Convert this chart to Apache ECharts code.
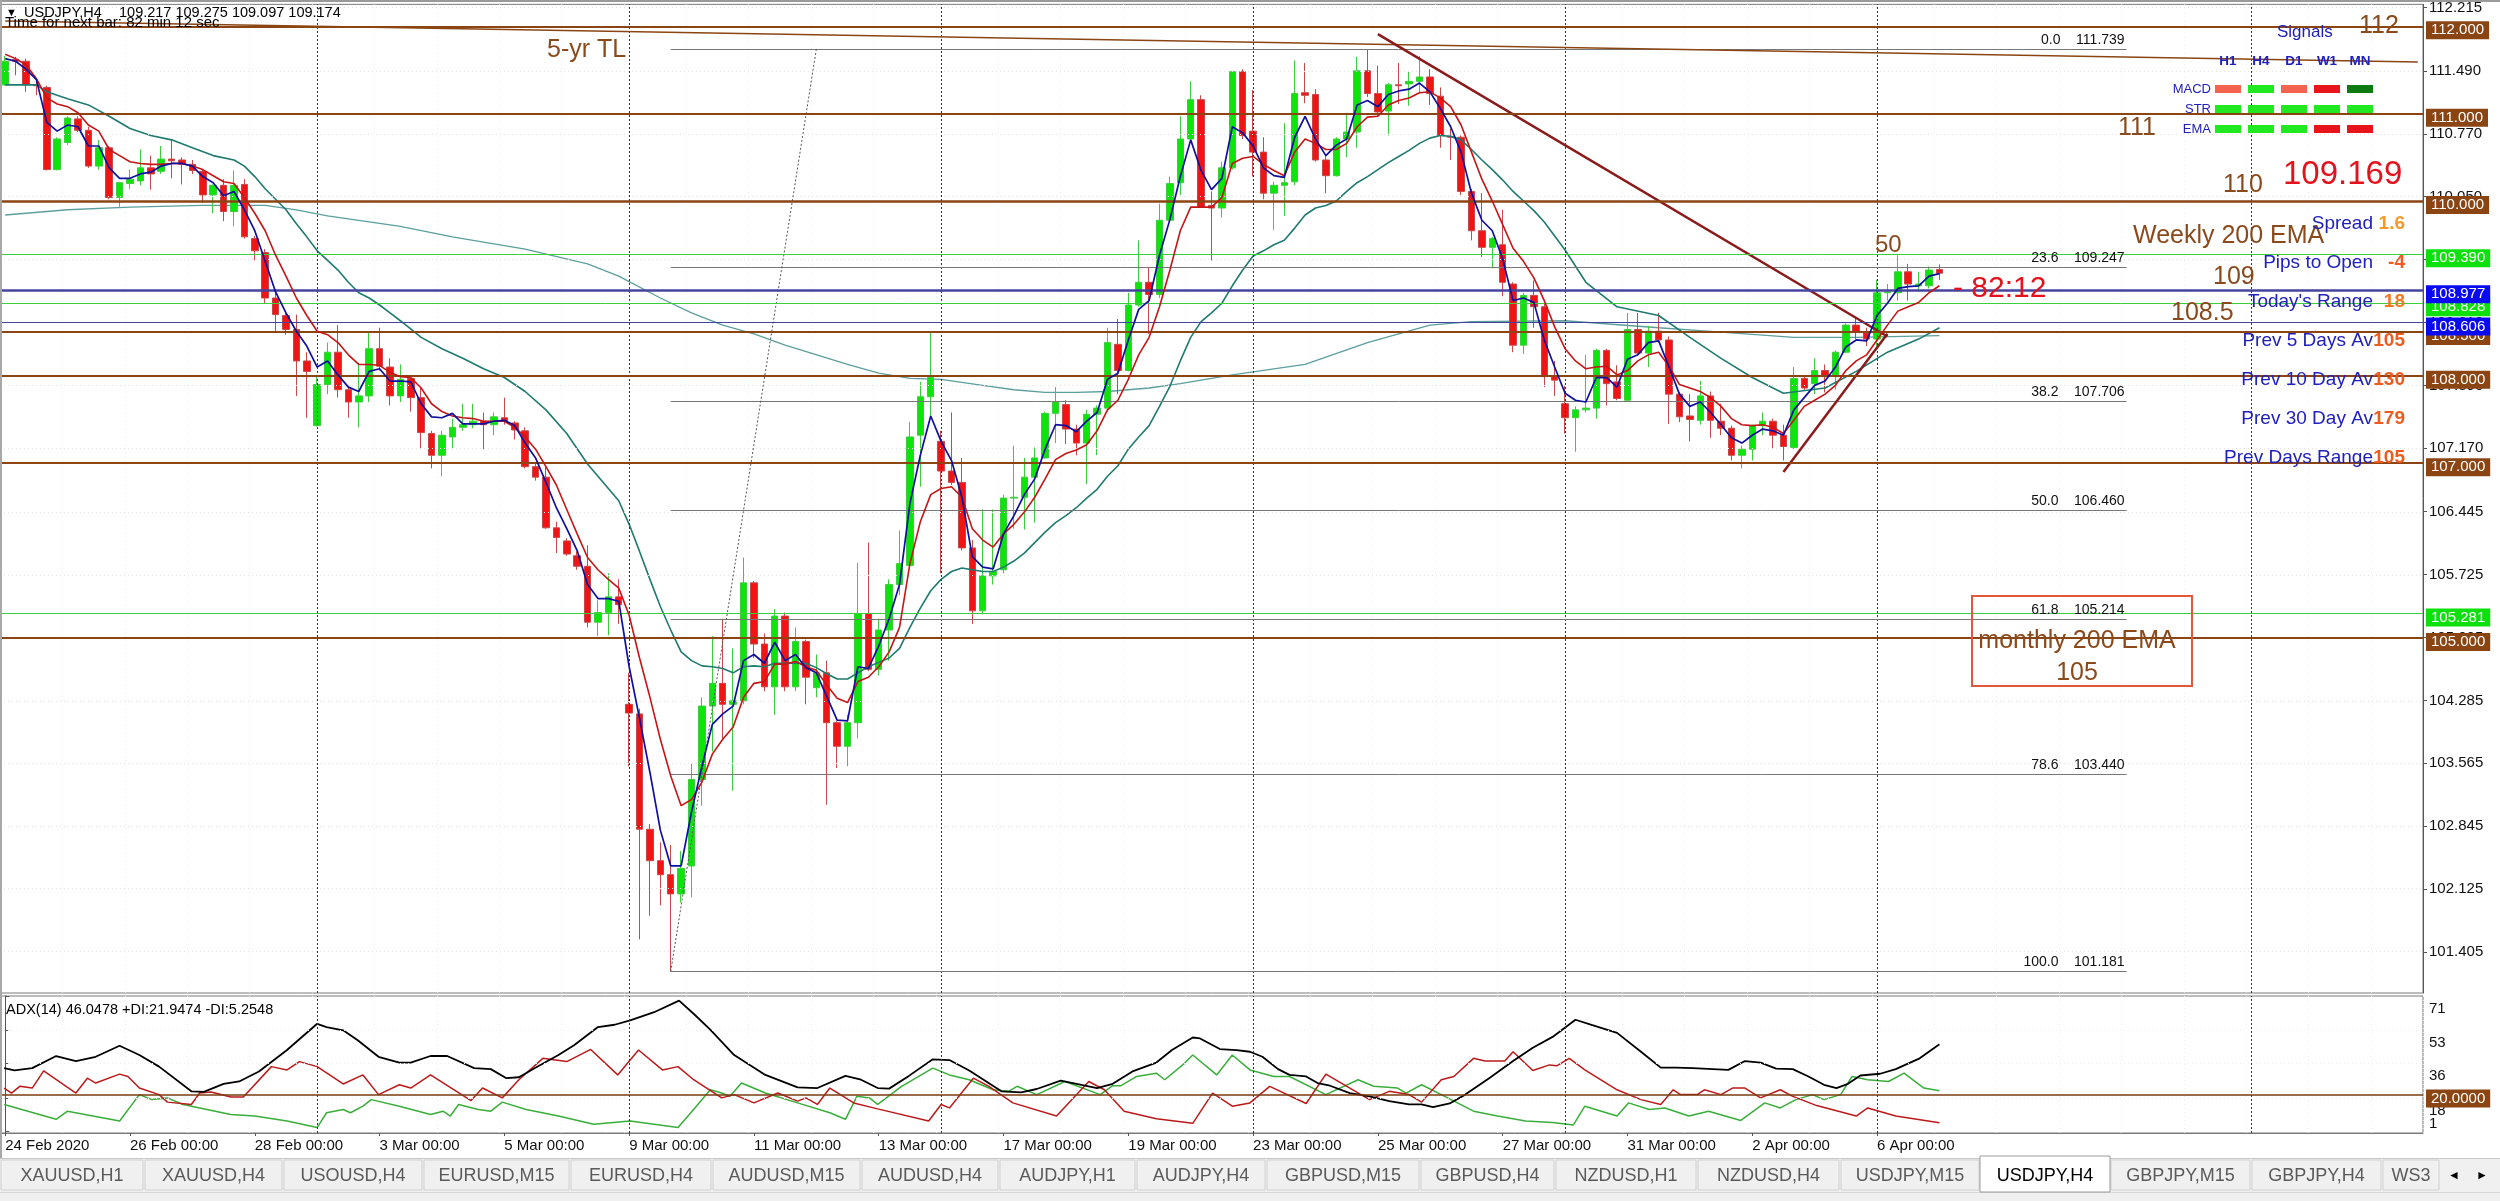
<!DOCTYPE html>
<html><head><meta charset="utf-8">
<script src="https://cdn.jsdelivr.net/npm/echarts@6/dist/echarts.min.js"></script>
<style>html,body{margin:0;padding:0;background:#fff;overflow:hidden}#c{width:2500px;height:1201px}</style>
</head><body><div id="c"></div>
<script>
// ---------------- DATA ----------------
const tradingDays = ['24 Feb','25 Feb','26 Feb','27 Feb','28 Feb','2 Mar','3 Mar','4 Mar','5 Mar','6 Mar','9 Mar','10 Mar','11 Mar','12 Mar','13 Mar','16 Mar','17 Mar','18 Mar','19 Mar','20 Mar','23 Mar','24 Mar','25 Mar','26 Mar','27 Mar','30 Mar','31 Mar','1 Apr','2 Apr','3 Apr','6 Apr','7 Apr'];
const barHours = ['00:00','04:00','08:00','12:00','16:00','20:00'];
const firstDateLabel = '24 Feb 2020';

const barOpen = [111.33,111.62,111.60,111.33,111.30,110.36,110.67,110.94,110.81,110.40,110.61,110.04,110.20,110.23,110.38,110.34,110.48,110.47,110.42,110.34,110.07,110.18,109.88,110.19,109.57,109.41,108.89,108.69,108.53,108.17,107.43,107.90,108.27,107.84,107.70,107.77,108.31,108.10,107.77,107.97,107.75,107.34,107.09,107.30,107.41,107.44,107.48,107.44,107.52,107.46,107.37,106.96,106.84,106.26,106.11,105.94,105.82,105.18,105.29,105.47,104.24,104.13,102.81,102.45,102.29,102.07,102.39,103.38,104.22,104.48,104.24,104.28,105.63,104.93,104.44,105.25,104.44,104.96,104.43,104.60,104.03,103.76,104.03,105.28,104.64,105.09,105.61,105.83,107.32,107.76,107.25,106.91,106.78,106.03,105.31,105.71,105.78,106.60,106.61,106.84,107.06,107.57,107.67,107.39,107.23,107.56,107.63,108.36,108.06,108.81,109.07,108.93,109.78,110.21,110.71,111.16,109.95,109.92,110.38,111.48,110.80,110.56,110.09,110.18,110.22,111.24,111.22,110.47,110.29,110.71,110.79,111.49,111.23,111.03,111.33,111.34,111.37,111.42,111.20,110.74,110.73,110.11,109.66,109.47,109.50,109.05,108.35,108.92,108.79,107.99,107.68,107.52,107.61,107.63,108.29,107.93,107.72,108.53,108.26,108.51,108.41,107.79,107.54,107.49,107.77,107.48,107.40,107.09,107.16,107.43,107.48,107.32,107.18,107.97,107.91,108.06,107.99,108.27,108.58,108.49,108.42,108.95,108.95,109.19,109.03,109.03,109.217];
const barHigh = [111.66,111.65,111.63,111.39,111.32,110.73,110.97,110.97,110.85,110.70,110.63,110.22,110.36,110.59,110.52,110.63,110.70,110.50,110.47,110.36,110.19,110.25,110.35,110.25,109.60,109.45,108.96,108.72,108.70,108.27,107.99,108.38,108.58,107.89,108.15,108.49,108.55,108.20,108.13,107.99,107.86,107.37,107.37,107.51,107.68,107.68,107.58,107.58,107.75,107.48,107.41,106.99,106.96,106.33,106.14,105.99,106.06,105.43,105.74,105.67,104.60,104.19,102.87,102.66,102.63,102.56,103.56,104.32,105.02,105.22,104.88,105.92,105.65,105.05,105.33,105.29,105.12,104.98,104.81,104.74,104.05,104.12,105.86,106.09,105.22,105.67,106.23,107.47,107.93,108.50,107.37,107.58,107.06,106.12,106.47,106.47,106.64,107.20,107.06,107.18,107.59,107.87,107.72,107.44,107.61,107.66,108.55,108.65,108.95,109.55,109.24,109.97,110.28,110.97,111.37,111.21,110.11,110.45,111.49,111.51,111.27,110.73,110.22,110.89,111.61,111.58,111.28,110.52,110.73,111.01,111.65,111.74,111.55,111.35,111.58,111.49,111.66,111.51,111.30,110.83,110.75,110.14,110.09,109.59,109.90,109.07,108.95,109.09,108.83,108.17,107.89,107.65,108.24,108.31,108.31,108.12,108.72,108.72,108.57,108.72,108.45,107.81,107.79,107.94,107.82,107.68,107.43,107.20,107.44,107.58,107.51,107.44,108.10,108.01,108.20,108.13,108.29,108.60,108.67,108.55,109.10,109.05,109.38,109.28,109.19,109.25,109.275];
const barLow = [111.32,111.44,111.25,111.21,110.35,110.35,110.64,110.79,110.38,110.36,110.02,109.92,110.14,110.18,110.13,110.31,110.26,110.19,110.31,109.98,109.86,109.77,109.71,109.57,109.32,108.83,108.51,108.47,107.77,107.52,107.42,107.79,107.75,107.52,107.41,107.70,108.06,107.66,107.70,107.59,107.16,106.94,106.85,107.16,107.37,107.40,107.16,107.32,107.44,107.27,106.94,106.80,106.25,105.97,105.94,105.78,105.12,105.02,105.03,105.16,103.53,101.55,101.82,101.94,101.18,101.97,102.03,103.08,103.70,103.83,103.25,104.24,104.77,104.39,104.12,104.39,104.39,104.24,104.32,103.09,103.51,103.53,103.85,104.62,104.57,104.74,105.49,105.81,106.73,107.54,105.74,106.75,106.00,105.16,105.27,105.61,105.74,106.25,106.24,106.32,107.05,107.23,107.22,107.09,106.76,107.09,107.61,107.79,108.05,108.79,108.48,108.89,109.76,110.07,110.68,109.92,109.32,109.81,110.36,110.71,110.28,110.02,109.67,109.83,110.18,111.12,110.45,110.09,110.28,110.50,110.61,111.19,110.97,110.75,111.11,111.09,111.24,111.10,110.61,110.47,110.07,109.55,109.36,109.23,108.91,108.27,108.25,108.55,107.87,107.77,107.34,107.13,107.58,107.51,107.66,107.72,107.70,108.24,108.10,108.38,107.45,107.47,107.25,107.44,107.29,107.32,107.03,106.94,107.03,107.32,107.16,107.03,107.16,107.84,107.79,107.81,107.84,108.26,108.42,108.34,108.34,108.86,108.86,108.86,108.96,109.00,109.097];
const barClose = [111.60,111.60,111.33,111.32,110.36,110.71,110.95,110.81,110.40,110.61,110.04,110.21,110.25,110.38,110.31,110.48,110.46,110.42,110.35,110.07,110.18,109.88,110.18,109.59,109.43,108.89,108.70,108.53,108.17,108.05,107.90,108.27,107.84,107.70,107.77,108.31,108.11,107.77,107.96,107.75,107.35,107.09,107.32,107.41,107.44,107.48,107.44,107.53,107.48,107.38,106.96,106.84,106.26,106.15,105.96,105.82,105.18,105.29,105.47,105.38,104.14,102.81,102.45,102.29,102.07,102.36,103.38,104.22,104.48,104.24,104.28,105.63,104.93,104.44,105.25,104.44,104.96,104.55,104.60,104.03,103.76,104.03,105.28,104.64,105.09,105.61,105.85,107.30,107.76,107.98,106.91,106.78,106.03,105.31,105.71,105.76,106.60,106.61,106.84,107.06,107.57,107.70,107.39,107.23,107.56,107.63,108.38,108.06,108.81,109.07,108.93,109.78,110.20,110.71,111.16,109.93,109.92,110.38,111.48,110.75,110.56,110.09,110.18,110.21,111.23,111.21,110.47,110.29,110.71,110.79,111.49,111.23,111.02,111.33,111.32,111.37,111.42,111.23,110.75,110.73,110.11,109.66,109.47,109.57,109.07,108.35,108.92,108.79,107.99,107.95,107.52,107.61,107.63,108.29,107.91,107.74,108.53,108.26,108.51,108.41,107.79,107.53,107.50,107.77,107.49,107.40,107.09,107.16,107.43,107.48,107.32,107.19,107.97,107.86,108.06,107.99,108.27,108.58,108.50,108.42,108.95,108.96,109.19,109.05,109.05,109.21,109.174];

const emaFast = [111.63,111.60,111.51,111.39,110.90,110.80,110.87,110.85,110.63,110.63,110.38,110.26,110.26,110.31,110.33,110.40,110.43,110.43,110.40,110.28,110.21,110.06,110.11,109.90,109.66,109.31,108.96,108.72,108.51,108.34,108.10,108.17,108.01,107.87,107.82,108.05,108.08,107.94,107.94,107.93,107.68,107.53,107.52,107.57,107.45,107.45,107.45,107.48,107.49,107.43,107.23,107.06,106.78,106.49,106.25,106.00,105.61,105.45,105.45,105.42,104.67,104.08,103.46,102.80,102.39,102.39,103.01,103.53,104.01,104.13,104.22,104.74,104.81,104.71,104.95,104.74,104.81,104.66,104.60,104.33,104.06,104.05,104.67,104.65,104.91,105.22,105.61,106.54,107.09,107.54,107.25,107.03,106.61,105.93,105.81,105.79,106.19,106.40,106.64,106.82,107.16,107.44,107.43,107.36,107.48,107.58,107.96,108.03,108.41,108.76,108.86,109.38,109.79,110.28,110.70,110.35,110.13,110.26,110.85,110.78,110.63,110.38,110.29,110.27,110.73,110.97,110.71,110.52,110.64,110.71,111.10,111.15,111.08,111.22,111.26,111.28,111.35,111.25,111.06,110.85,110.56,110.09,109.78,109.66,109.34,108.86,108.89,108.84,108.41,108.10,107.80,107.72,107.70,107.98,107.98,107.87,108.19,108.24,108.38,108.40,108.10,107.79,107.65,107.70,107.58,107.44,107.29,107.23,107.32,107.39,107.37,107.32,107.61,107.75,107.89,107.94,108.10,108.33,108.41,108.40,108.69,108.83,109.00,109.02,109.03,109.14,109.17];
const emaSlow = [111.68,111.63,111.56,111.40,111.18,111.11,111.08,111.01,110.87,110.80,110.59,110.52,110.45,110.43,110.42,110.42,110.43,110.43,110.40,110.36,110.29,110.22,110.20,110.04,109.86,109.66,109.38,109.14,108.89,108.69,108.51,108.47,108.38,108.24,108.13,108.13,108.12,108.04,107.99,107.98,107.86,107.68,107.59,107.54,107.52,107.51,107.48,107.48,107.48,107.41,107.30,107.16,106.96,106.75,106.47,106.19,105.92,105.78,105.67,105.57,105.26,104.77,104.32,103.84,103.42,103.08,103.15,103.35,103.67,103.84,103.98,104.32,104.48,104.50,104.70,104.70,104.73,104.67,104.63,104.46,104.31,104.26,104.50,104.55,104.67,104.84,105.12,105.85,106.33,106.64,106.71,106.73,106.61,106.25,106.12,106.04,106.19,106.30,106.44,106.61,106.82,107.04,107.11,107.15,107.21,107.37,107.61,107.72,107.96,108.24,108.44,108.79,109.21,109.66,109.93,109.93,109.93,110.04,110.43,110.49,110.51,110.42,110.35,110.29,110.56,110.71,110.66,110.59,110.59,110.66,110.85,110.96,110.97,111.10,111.15,111.18,111.24,111.25,111.18,111.08,110.87,110.56,110.25,110.00,109.73,109.46,109.31,109.12,108.86,108.56,108.31,108.17,108.08,108.10,108.11,108.01,108.06,108.17,108.24,108.27,108.11,107.90,107.86,107.82,107.75,107.65,107.51,107.44,107.43,107.44,107.41,107.34,107.49,107.65,107.72,107.79,107.89,108.06,108.17,108.24,108.41,108.58,108.74,108.79,108.84,108.95,109.03];
const maMid = [[0,111.33],[3,111.33],[4,111.25],[6,111.17],[8,111.10],[10,110.97],[12,110.83],[14,110.75],[16,110.70],[18,110.61],[20,110.52],[22,110.47],[23,110.40],[24,110.28],[25,110.14],[26,110.02],[27,109.90],[28,109.74],[29,109.59],[30,109.43],[31,109.32],[32,109.21],[33,109.07],[34,108.95],[35,108.89],[36,108.81],[37,108.72],[38,108.63],[40,108.44],[42,108.31],[44,108.20],[46,108.08],[48,107.98],[50,107.82],[52,107.61],[54,107.34],[56,106.99],[57,106.85],[58,106.71],[59,106.57],[60,106.30],[61,105.99],[62,105.67],[63,105.36],[64,105.09],[65,104.84],[66,104.74],[67,104.68],[68,104.67],[69,104.65],[70,104.60],[71,104.67],[72,104.68],[73,104.67],[74,104.71],[75,104.71],[77,104.71],[78,104.66],[79,104.59],[80,104.53],[81,104.53],[82,104.60],[83,104.67],[84,104.72],[85,104.77],[86,104.88],[87,105.12],[88,105.34],[89,105.54],[90,105.67],[91,105.76],[92,105.80],[93,105.78],[94,105.76],[95,105.76],[96,105.81],[97,105.88],[98,105.97],[99,106.09],[100,106.21],[101,106.32],[102,106.40],[103,106.49],[104,106.60],[105,106.70],[106,106.85],[107,106.97],[108,107.16],[109,107.30],[110,107.43],[111,107.65],[112,107.88],[113,108.17],[114,108.44],[115,108.62],[116,108.72],[117,108.83],[118,109.03],[119,109.21],[120,109.37],[121,109.43],[122,109.50],[123,109.55],[124,109.69],[125,109.84],[126,109.92],[127,109.95],[128,110.00],[129,110.11],[130,110.21],[131,110.28],[132,110.36],[133,110.44],[134,110.51],[135,110.58],[136,110.66],[137,110.72],[138,110.75],[139,110.74],[140,110.70],[141,110.59],[142,110.47],[143,110.36],[144,110.24],[145,110.11],[146,110.00],[147,109.89],[148,109.76],[149,109.60],[150,109.44],[152,109.07],[155,108.79],[159,108.69],[162,108.44],[165,108.20],[168,107.98],[171,107.80],[175,107.86],[178,108.05],[181,108.27],[184,108.42],[186,108.55]];
const maLong = [[0,109.84],[6,109.90],[12,109.93],[19,109.95],[25,109.95],[28,109.90],[31,109.83],[38,109.71],[43,109.59],[50,109.45],[56,109.28],[59,109.14],[63,108.89],[66,108.72],[69,108.58],[72,108.48],[75,108.35],[81,108.13],[84,108.03],[87,107.97],[90,107.96],[94,107.89],[97,107.84],[100,107.81],[103,107.81],[106,107.82],[110,107.86],[113,107.91],[118,108.01],[125,108.13],[131,108.38],[137,108.58],[141,108.62],[150,108.63],[159,108.55],[165,108.50],[172,108.44],[178,108.44],[186,108.46]];

const adxLine = [[-0.1,33.6],[0.9,32.4],[2.6,33.6],[4.9,39.9],[6.8,37.3],[8.7,39.5],[11.0,45.2],[12.9,40.4],[14.8,34.4],[17.9,21.6],[19.1,21.3],[21.0,25.5],[22.5,26.7],[24.4,31.9],[27.1,43.0],[30.0,56.6],[30.9,54.9],[32.5,53.2],[33.9,48.1],[35.9,39.5],[37.9,36.5],[39.0,36.5],[40.9,39.9],[42.5,39.9],[45.1,33.6],[46.7,33.1],[48.2,28.4],[49.4,28.9],[50.9,33.6],[53.2,40.4],[54.7,45.5],[57.0,54.9],[58.6,56.1],[60.1,58.4],[62.4,62.6],[64.8,68.6],[66.2,61.8],[67.8,53.6],[70.1,40.4],[73.1,30.1],[76.2,23.6],[78.1,23.3],[80.8,29.6],[82.3,27.6],[83.9,23.3],[85.0,23.0],[86.9,29.6],[89.2,38.2],[90.8,37.8],[92.7,32.4],[95.8,21.6],[97.7,21.1],[99.2,22.8],[101.5,27.1],[105.0,23.3],[106.5,25.5],[108.4,31.9],[110.7,36.5],[112.2,43.0],[114.2,49.5],[114.9,49.0],[116.8,43.5],[118.4,43.0],[119.7,42.1],[120.9,39.5],[122.4,33.1],[123.5,30.1],[125.1,29.3],[126.2,25.9],[127.4,24.5],[129.3,20.7],[131.2,19.0],[133.1,16.5],[135.0,14.8],[136.2,14.8],[137.3,13.4],[138.9,15.3],[140.4,19.9],[142.7,28.4],[145.0,37.3],[146.9,44.2],[148.8,49.8],[151.0,58.7],[152.7,55.8],[155.0,51.9],[157.3,42.1],[159.2,33.9],[160.7,33.9],[162.3,33.6],[164.2,33.1],[165.7,32.7],[167.3,37.3],[168.8,36.5],[170.3,33.4],[171.9,33.1],[173.4,29.3],[174.9,25.0],[176.1,23.3],[177.2,25.5],[178.4,29.8],[180.3,30.7],[181.8,33.1],[184.1,38.7],[186.0,46.0]];
const plusDI = [[-0.1,14.8],[4.9,7.1],[6.0,11.3],[11.0,6.2],[12.9,19.9],[14.1,17.3],[15.6,18.2],[17.1,14.8],[21.7,9.6],[24.0,8.8],[27.1,6.2],[30.0,2.8],[30.9,10.5],[32.5,12.2],[33.2,10.5],[34.4,13.9],[35.2,17.3],[37.9,13.9],[40.9,9.6],[42.1,11.3],[42.8,8.8],[43.6,14.8],[45.5,12.2],[46.7,11.3],[47.8,16.0],[50.1,12.2],[53.2,8.8],[56.6,4.5],[60.1,6.2],[64.7,2.8],[66.2,12.2],[67.8,22.4],[68.9,20.7],[69.7,19.0],[70.8,25.9],[73.1,20.7],[76.2,15.6],[79.3,10.5],[80.8,7.1],[81.9,19.0],[83.1,18.2],[83.9,14.8],[86.2,24.2],[89.2,33.6],[90.8,30.1],[92.7,27.6],[95.0,22.4],[96.5,21.6],[97.3,24.2],[99.2,19.9],[101.9,26.7],[105.3,19.9],[106.5,24.5],[107.3,24.5],[108.8,29.3],[110.7,31.0],[111.5,27.6],[113.4,36.1],[114.2,40.4],[116.5,30.1],[118.0,40.4],[119.7,32.7],[122.0,29.3],[123.5,29.3],[127.0,19.9],[130.1,27.6],[131.6,24.2],[133.9,23.3],[134.7,20.7],[136.2,25.0],[138.1,19.9],[141.2,11.3],[143.5,8.8],[146.2,6.2],[148.8,5.4],[150.8,4.2],[151.9,13.9],[155.0,8.8],[156.1,15.6],[158.1,12.2],[159.6,13.0],[161.9,8.8],[163.8,11.3],[166.9,6.5],[169.2,15.6],[170.7,13.0],[172.2,17.3],[173.8,19.9],[174.9,17.3],[176.5,19.9],[177.6,29.3],[179.1,27.6],[181.1,26.7],[182.6,31.0],[184.5,23.3],[186.0,21.9]];
const minusDI = [[-0.1,23.3],[0.6,20.7],[1.4,24.2],[2.6,23.3],[3.7,32.2],[6.8,20.7],[7.9,28.4],[8.7,25.9],[11.0,30.5],[11.8,29.3],[12.9,23.3],[14.8,19.9],[15.6,16.0],[17.9,14.8],[18.7,20.7],[19.8,21.3],[21.7,18.7],[22.9,18.7],[25.6,34.4],[27.1,32.7],[28.3,37.0],[30.0,34.4],[32.5,25.4],[34.4,30.1],[35.9,19.9],[37.9,25.0],[39.0,23.3],[40.9,30.1],[44.8,16.8],[45.9,23.3],[47.8,18.2],[49.4,27.6],[51.7,38.7],[54.0,37.0],[56.3,43.3],[58.9,30.1],[60.9,43.0],[63.2,32.7],[64.7,34.4],[66.2,27.6],[68.9,18.2],[70.1,19.9],[72.0,15.6],[74.3,20.7],[76.2,16.5],[77.0,18.2],[78.1,14.8],[79.3,23.3],[81.6,15.6],[83.9,12.5],[88.8,6.2],[90.0,14.8],[90.8,13.0],[93.1,28.4],[94.6,24.2],[96.9,15.6],[101.1,8.8],[104.2,26.7],[105.7,22.4],[107.6,11.3],[110.7,7.4],[114.2,5.0],[116.1,20.7],[118.0,13.9],[119.7,15.6],[121.6,24.2],[125.1,15.3],[127.0,30.5],[131.2,17.3],[133.1,21.6],[135.0,19.9],[136.2,16.0],[138.1,27.6],[139.3,29.3],[141.2,38.7],[142.3,37.3],[144.2,37.3],[145.0,42.1],[146.9,32.4],[148.5,35.3],[149.2,34.8],[150.4,38.7],[151.9,32.7],[155.0,22.4],[157.3,17.3],[159.2,14.8],[160.4,22.4],[161.1,19.9],[162.7,19.9],[163.4,22.4],[165.0,19.9],[166.1,23.3],[167.3,23.3],[168.8,18.2],[170.7,22.4],[171.9,19.0],[174.2,14.2],[178.0,8.8],[179.1,13.0],[181.8,8.8],[186.0,5.3]];

const yTickValues = [112.215,111.490,110.770,110.050,109.330,108.610,107.890,107.170,106.445,105.725,105.005,104.285,103.565,102.845,102.125,101.405];
const adxTickValues = [71,53,36,18,1];
const brownLevels = [112.000,111.000,110.000,108.000,107.000,105.000,108.500];
const greenLevels = [109.390,108.828,105.281];
const blueLevels = [108.977,108.606];
const bidPrice = 109.174;
const fibLevels = [[0.0,111.739],[23.6,109.247],[38.2,107.706],[50.0,106.460],[61.8,105.214],[78.6,103.440],[100.0,101.181]];
const weekSeparators = [30,60,90,120,150,180,216];
const adxLevel = 20;

const tabNames = ['XAUUSD,H1','XAUUSD,H4','USOUSD,H4','EURUSD,M15','EURUSD,H4','AUDUSD,M15','AUDUSD,H4','AUDJPY,H1','AUDJPY,H4','GBPUSD,M15','GBPUSD,H4','NZDUSD,H1','NZDUSD,H4','USDJPY,M15','USDJPY,H4','GBPJPY,M15','GBPJPY,H4','WS3'];
const signalRows = ['MACD','STR','EMA'];
const signalCols = ['H1','H4','D1','W1','MN'];
const signalColors = [['#f26350','#22e822','#f26350','#e8141b','#0e7a12'],['#22e822','#22e822','#22e822','#22e822','#22e822'],['#22e822','#22e822','#22e822','#e8141b','#e8141b']];
const infoRows = [['Spread','1.6','#f39a2b'],['Pips to Open','-4','#ef5a1e'],["Today's Range",'18','#f07a22'],['Prev 5 Days Av','105','#ef5a1e'],['Prev 10 Day Av','130','#ef5a1e'],['Prev 30 Day Av','179','#ef5a1e'],['Prev Days Range','105','#ef5a1e']];

// ---------------- BUILD ----------------
const N = 233;
const categories = [];
tradingDays.forEach(d => barHours.forEach(h => categories.push(d + ' ' + h)));
categories.length = barClose.length;
for (let i = categories.length; i < N; i++) categories.push('f' + i);
const ohlc = barOpen.map((o, i) => [o, barClose[i], barLow[i], barHigh[i]]);

const FONT = "'Liberation Sans', Arial, sans-serif";
const BROWN = '#8a4a1c';
const TAGBROWN = '#8B4513';
const BLUE = '#2020bd';

function tag(text, bg, fg) {
  return {show: true, position: 'end', formatter: text, backgroundColor: bg, color: fg || '#fff',
    fontSize: 15, fontFamily: FONT, padding: [2, 5, 1, 5], distance: 3, offset: [0, 4]};
}

const mainMarks = [];
yTickValues.forEach(v => mainMarks.push({yAxis: v, lineStyle: {color: '#e2e2e2', type: [1, 3], width: 1}, label: {show: false}}));
weekSeparators.forEach(v => mainMarks.push({xAxis: v, lineStyle: {color: '#333', type: [2, 2], width: 1}, label: {show: false}}));
fibLevels.forEach(([lv, p]) => {
  const st = {lineStyle: {color: '#777', width: 1, type: 'solid'},
    label: {show: true, position: 'insideEndTop', formatter: lv.toFixed(1) + '    ' + p.toFixed(3), color: '#111', fontSize: 14, fontFamily: FONT, distance: 2}};
  mainMarks.push([Object.assign({coord: [64, p]}, st), Object.assign({coord: [204, p]}, st)]);
});
const seg = (a, b, ls) => [{coord: a, lineStyle: ls, label: {show: false}}, {coord: b, lineStyle: ls, label: {show: false}}];
mainMarks.push(seg([64, fibLevels[6][1]], [78, fibLevels[0][1]], {color: '#555', type: [2, 2], width: 1}));
mainMarks.push(seg([0, 112.06], [232, 111.59], {color: '#8B4513', width: 1.5, type: 'solid'}));
mainMarks.push(seg([132, 111.91], [181, 108.45], {color: '#8b1a1a', width: 2.5, type: 'solid'}));
mainMarks.push(seg([171, 106.90], [181, 108.48], {color: '#8b1a1a', width: 2.5, type: 'solid'}));
greenLevels.forEach(v => mainMarks.push({yAxis: v, lineStyle: {color: '#3ccf3c', width: 1, type: 'solid'}, label: tag(v.toFixed(3), '#0ee00e')}));
brownLevels.forEach(v => mainMarks.push({yAxis: v, lineStyle: {color: '#8B4513', width: v === 110 ? 2.5 : 1.8, type: 'solid'}, label: tag(v.toFixed(3), TAGBROWN)}));
blueLevels.forEach((v, k) => mainMarks.push({yAxis: v, lineStyle: {color: '#44449e', width: k === 0 ? 2.5 : 1.2, type: 'solid'}, label: tag(v.toFixed(3), '#0a0af0')}));
mainMarks.push({yAxis: bidPrice, lineStyle: {opacity: 0, width: 0}, label: tag(bidPrice.toFixed(3), '#000')});

const adxMarks = [{yAxis: adxLevel, lineStyle: {color: '#7a3b10', width: 1.6, type: 'solid'}, label: tag('20.0000', TAGBROWN)}];
weekSeparators.forEach(v => adxMarks.push({xAxis: v, lineStyle: {color: '#333', type: [2, 2], width: 1}, label: {show: false}}));
[18, 36, 53].forEach(v => adxMarks.push({yAxis: v, lineStyle: {color: '#ececec', type: [1, 3], width: 1}, label: {show: false}}));

const showDate = (i) => i % 12 === 0 && i <= 180;

// ---------- graphic ----------
function T(x, y, text, size, color, align, weight) {
  const a = align || 'left';
  return {type: 'text', x: x, y: y, z: 100, silent: true,
    style: {text: text, fill: color, font: (weight || 'normal') + ' ' + size + 'px ' + FONT,
      align: a, textAlign: a, verticalAlign: 'middle', textVerticalAlign: 'middle'}};
}
function R(x, y, w, h, fill, stroke, lw, z) {
  return {type: 'rect', z: z || 90, silent: true, shape: {x: x, y: y, width: w, height: h},
    style: {fill: fill, stroke: stroke || null, lineWidth: lw || 0}};
}
const G = [];
// frame
G.push(R(0, 0, 2500, 2, '#9a9a9a'));
G.push(R(0, 0, 2, 1158, '#a8a8a8'));
// header
G.push(T(6, 13, '\u25BC', 11, '#000'));
G.push(T(24, 13, 'USDJPY,H4', 14.5, '#000'));
G.push(T(119, 13, '109.217 109.275 109.097 109.174', 14.5, '#000'));
G.push(T(5, 23, 'Time for next bar: 82 min 12 sec', 15, '#000'));
// ADX caption
G.push(T(6, 1010, 'ADX(14) 46.0478 +DI:21.9474 -DI:5.2548', 14.5, '#000'));
// chart annotations
G.push(T(547, 50, '5-yr TL', 25, BROWN));
G.push(T(2359, 26, '112', 25, BROWN));
G.push(T(2118, 128, '111', 25, BROWN));
G.push(T(2223, 185, '110', 25, BROWN));
G.push(T(2213, 277, '109', 25, BROWN));
G.push(T(2171, 313, '108.5', 25, BROWN));
G.push(T(1875, 245, '50', 24, BROWN));
G.push(T(2133, 236, 'Weekly 200 EMA', 25, BROWN));
G.push(T(2283, 175, '109.169', 33, '#e3121c'));
G.push(T(1953, 289, '- 82:12', 30, '#e3121c'));
// signals panel
G.push(T(2277, 32, 'Signals', 17, BLUE));
const colX = [2215, 2248, 2281, 2314, 2347];
signalCols.forEach((c, k) => G.push(T(colX[k] + 13, 61, c, 13.5, BLUE, 'center', 'bold')));
const rowY = [85, 105, 125];
signalRows.forEach((r, j) => {
  G.push(T(2211, rowY[j] + 4, r, 13, BLUE, 'right'));
  signalColors[j].forEach((col, k) => G.push(R(colX[k], rowY[j], 26, 8, col)));
});
// info rows
const infoY = [224, 263, 302, 341, 380, 419, 458];
infoRows.forEach((r, k) => {
  G.push(T(2373, infoY[k], r[0], 19, BLUE, 'right'));
  G.push(T(2405, infoY[k], r[1], 19, r[2], 'right', 'bold'));
});
// monthly EMA box
G.push({type: 'rect', z: 95, silent: true, shape: {x: 1972, y: 596, width: 220, height: 90}, style: {fill: null, stroke: '#e2583e', lineWidth: 2}});
G.push(T(2077, 641, 'monthly 200 EMA', 25, BROWN, 'center'));
G.push(T(2077, 673, '105', 25, BROWN, 'center'));
// ADX bottom label "1"
G.push(T(2429, 1124, '1', 15, '#111'));
// tabs
const tabEdges = [0, 144, 283, 423, 570, 712, 861, 999, 1136, 1266, 1420, 1555, 1697, 1840, 1980, 2110, 2251, 2382, 2440];
G.push(R(0, 1158, 2500, 43, '#f0f0f0', null, 0, 80));
G.push(R(0, 1158, 2500, 1, '#c8c8c8', null, 0, 81));
tabNames.forEach((name, k) => {
  const x0 = tabEdges[k], x1 = tabEdges[k + 1];
  const active = k === 14;
  if (active) G.push(R(x0, 1156, x1 - x0, 36, '#ffffff', '#9a9a9a', 1, 85));
  else G.push(R(x0 + 1, 1160, x1 - x0 - 2, 30, '#f0f0f0', '#d0d0d0', 1, 82));
  G.push(T((x0 + x1) / 2, 1176, name, 18, active ? '#000' : '#5a5a5a', 'center'));
});
G.push(T(2454, 1176, '\u25C4', 12, '#000', 'center'));
G.push(T(2482, 1176, '\u25BA', 12, '#000', 'center'));
G.push(R(0, 1192, 2500, 9, '#f0f0f0', null, 0, 81));
G.push(R(0, 1192, 2500, 1, '#d8d8d8', null, 0, 82));

const option = {
  animation: false,
  backgroundColor: '#ffffff',
  textStyle: {fontFamily: FONT},
  grid: [
    {left: 0, top: 3, width: 2423, height: 990, show: true, borderColor: '#7a7a7a', borderWidth: 1, backgroundColor: 'transparent'},
    {left: 0, top: 996, width: 2423, height: 137, show: true, borderColor: '#7a7a7a', borderWidth: 1, backgroundColor: 'transparent'}
  ],
  xAxis: [
    {type: 'category', gridIndex: 0, data: categories, boundaryGap: true,
      axisLine: {show: false}, axisTick: {show: false}, axisLabel: {show: false},
      splitLine: {show: true, interval: (i) => i % 6 === 0, lineStyle: {color: '#ececec', type: [1, 3]}}},
    {type: 'category', gridIndex: 1, data: categories, boundaryGap: true,
      axisLine: {show: true, lineStyle: {color: '#7a7a7a'}},
      axisTick: {show: true, alignWithLabel: true, interval: (i) => showDate(i), length: 3, lineStyle: {color: '#555'}},
      axisLabel: {show: true, interval: (i) => showDate(i), align: 'left', margin: 5, fontSize: 15, color: '#111', fontFamily: FONT, hideOverlap: false,
        formatter: (v, i) => i === 0 ? firstDateLabel : v},
      splitLine: {show: true, interval: (i) => i % 6 === 0, lineStyle: {color: '#ececec', type: [1, 3]}}},
    {type: 'value', gridIndex: 1, min: -0.5, max: N - 0.5, show: false}
  ],
  yAxis: [
    {type: 'value', gridIndex: 0, position: 'right', min: 100.936, max: 112.251,
      splitLine: {show: false}, axisLine: {show: true, lineStyle: {color: '#555'}},
      axisTick: {show: true, customValues: yTickValues, length: 4, lineStyle: {color: '#555'}},
      axisLabel: {show: true, customValues: yTickValues, formatter: (v) => v.toFixed(3), fontSize: 15, color: '#111', margin: 6, fontFamily: FONT}},
    {type: 'value', gridIndex: 1, position: 'right', min: 0, max: 71,
      splitLine: {show: false}, axisLine: {show: true, lineStyle: {color: '#555'}},
      axisTick: {show: true, customValues: adxTickValues, length: 4, lineStyle: {color: '#555'}},
      axisLabel: {show: true, customValues: [71, 53, 36, 18], verticalAlign: 'top', padding: [5, 0, 0, 0], fontSize: 15, color: '#111', margin: 6, fontFamily: FONT}}
  ],
  series: [
    {name: 'MA long', type: 'line', xAxisIndex: 0, yAxisIndex: 0, data: maLong, symbol: 'none', z: 1, clip: false,
      lineStyle: {color: '#5c9e9e', width: 1.3}, silent: true,
      markLine: {symbol: ['none', 'none'], silent: true, animation: false, label: {show: false}, data: mainMarks}},
    {name: 'USDJPY', type: 'candlestick', xAxisIndex: 0, yAxisIndex: 0, data: ohlc, barWidth: 7, z: 3,
      itemStyle: {color: '#0ce40c', color0: '#f01414', borderColor: '#3ccd3c', borderColor0: '#c64848', borderWidth: 1}},
    {name: 'MA mid', type: 'line', xAxisIndex: 0, yAxisIndex: 0, data: maMid, symbol: 'none', z: 4,
      lineStyle: {color: '#1f7a70', width: 1.6}},
    {name: 'EMA slow', type: 'line', xAxisIndex: 0, yAxisIndex: 0, data: emaSlow, symbol: 'none', z: 5,
      lineStyle: {color: '#c41616', width: 1.6}},
    {name: 'EMA fast', type: 'line', xAxisIndex: 0, yAxisIndex: 0, data: emaFast, symbol: 'none', z: 6,
      lineStyle: {color: '#10109e', width: 1.7}},
    {name: 'ADX', type: 'line', xAxisIndex: 2, yAxisIndex: 1, data: adxLine, symbol: 'none', z: 4, clip: false,
      lineStyle: {color: '#000', width: 1.8},
      markLine: {symbol: ['none', 'none'], silent: true, animation: false, label: {show: false}, data: adxMarks}},
    {name: '+DI', type: 'line', xAxisIndex: 2, yAxisIndex: 1, data: plusDI, symbol: 'none', z: 3,
      lineStyle: {color: '#3aae3a', width: 1.5}},
    {name: '-DI', type: 'line', xAxisIndex: 2, yAxisIndex: 1, data: minusDI, symbol: 'none', z: 3,
      lineStyle: {color: '#bb1a1a', width: 1.5}}
  ],
  graphic: {elements: G}
};

const chart = echarts.init(document.getElementById('c'), null, {renderer: 'canvas', width: 2500, height: 1201});
chart.setOption(option);
</script></body></html>
